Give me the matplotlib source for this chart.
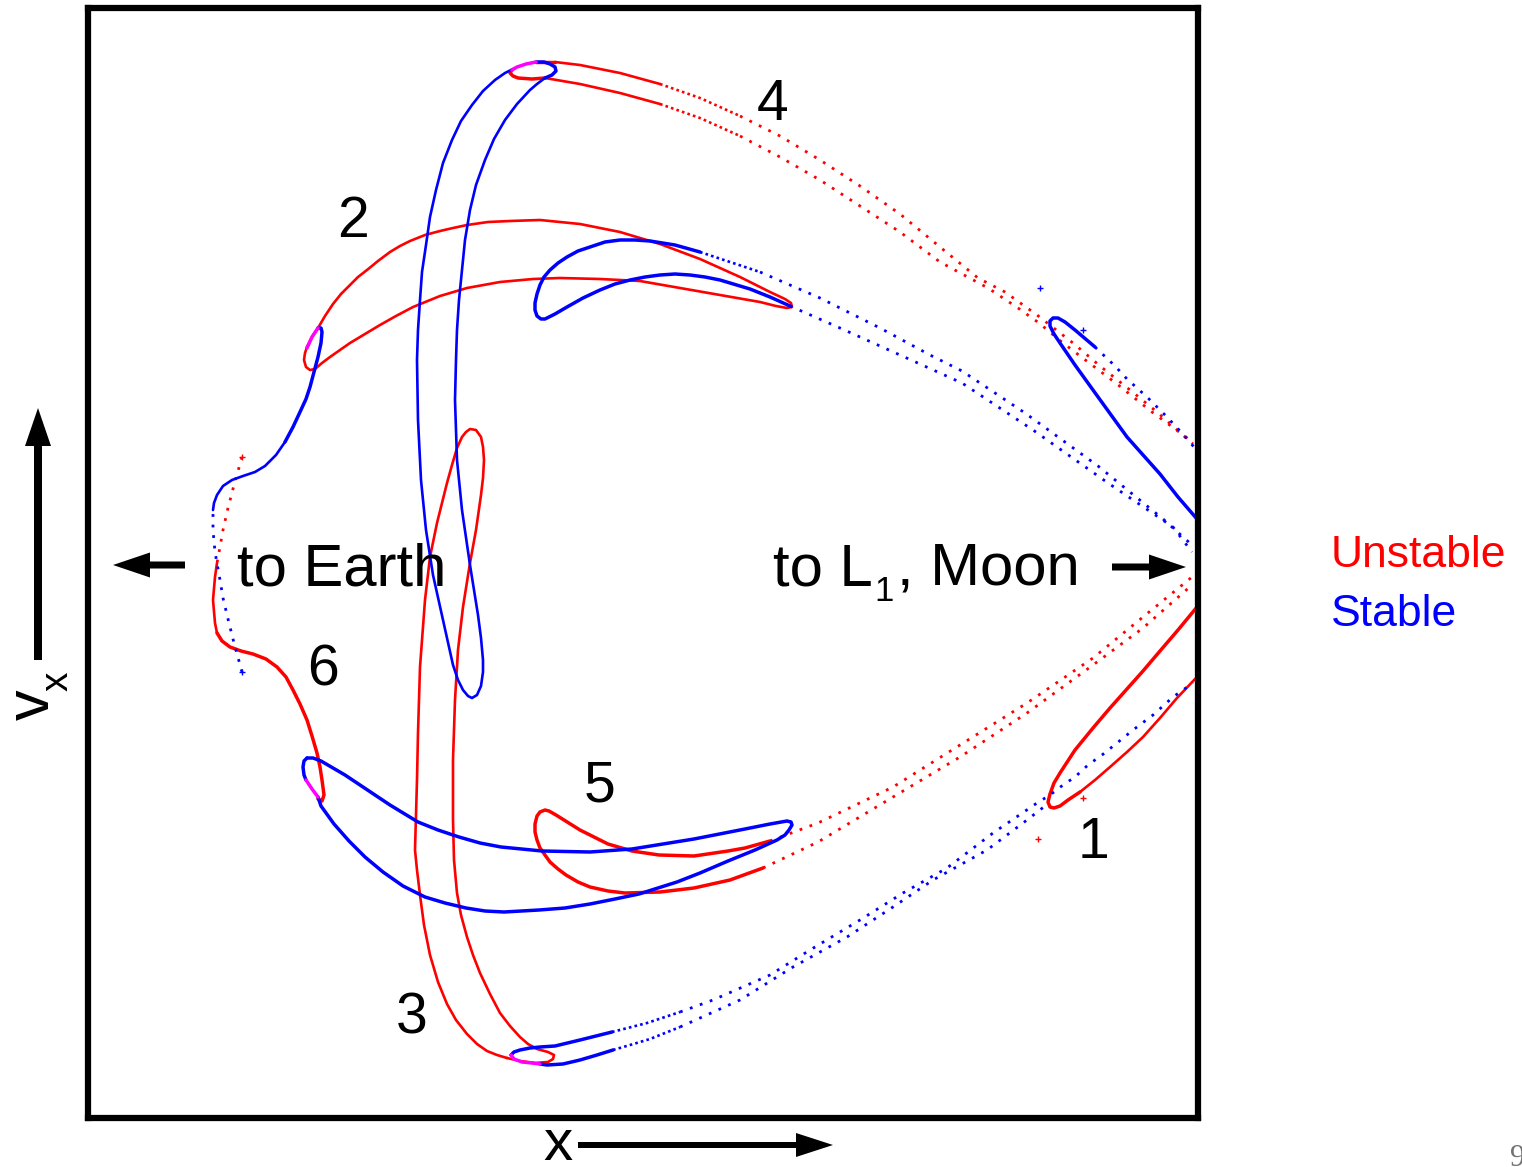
import matplotlib
matplotlib.use('Agg')
import matplotlib.pyplot as plt

plt.rcParams['font.family'] = ['Liberation Sans', 'DejaVu Sans']

RED = '#ff0000'
BLUE = '#0000ff'
MAG = '#ff00ff'

# ---- curve data (x, v_x in picture units, v_x grows downward) ----
# unstable manifold (red)
red_lobe1 = [(1197, 607), (1178, 630), (1160, 651), (1143, 671), (1110, 708), (1093, 728),
             (1075, 750), (1060, 773), (1054, 783), (1050, 794), (1048, 802), (1050, 807),
             (1054, 808), (1060, 806), (1068, 800), (1080, 792)]
red_lobe1_tail = [(1080, 792), (1095, 780), (1110, 767), (1127, 752), (1143, 737),
                  (1160, 718), (1177, 698), (1196, 678)]
red_5_up_dots = [(770, 841), (818, 823), (893, 787), (960, 745), (1027, 703), (1093, 658),
                 (1143, 617), (1192, 577)]
red_5_low_dots = [(763, 868), (818, 842), (893, 797), (960, 757), (1027, 713), (1093, 665),
                  (1143, 628), (1192, 585)]
red_lobe5 = [(770, 841), (745, 848), (728, 851), (694, 856), (659, 855), (632, 851),
             (608, 844), (580, 830), (556, 815), (549, 811), (545, 810), (540, 812),
             (537, 816), (535, 824), (535, 832), (537, 840), (540, 848), (545, 855),
             (550, 862), (558, 869), (566, 875), (578, 882), (590, 887), (608, 891),
             (625, 893), (660, 892), (694, 888), (730, 880), (763, 868)]
red_earth_dots = [(242, 457), (234, 485), (228, 508), (223, 530), (220, 547), (217, 563)]
red_earth_dense = [(217, 563), (215, 577), (213, 600), (215, 623), (217, 633)]
red_6 = [(217, 633), (222, 641), (230, 647), (241, 651), (253, 654), (266, 659), (277, 667),
         (286, 677), (293, 690), (300, 704), (307, 720), (312, 736), (317, 753), (320, 767),
         (322, 780), (324, 795), (322, 801), (318, 799)]
red_lobe2 = [(307, 347), (312, 337), (318, 328), (325, 316), (333, 304), (341, 294),
             (350, 285), (358, 277), (367, 270), (378, 261), (390, 252), (400, 246),
             (410, 241), (425, 235), (440, 231), (453, 228), (467, 225), (488, 222),
             (510, 221), (540, 220), (580, 224), (620, 232), (660, 244), (700, 259),
             (740, 277), (770, 292), (785, 299), (791, 303), (792, 307), (787, 308),
             (776, 306), (760, 302), (720, 295), (680, 288), (640, 281), (600, 279),
             (560, 278), (533, 279), (500, 282), (467, 288), (440, 296), (413, 307),
             (396, 316), (380, 325), (365, 334), (350, 343), (340, 350), (330, 357),
             (322, 363), (315, 369), (310, 370), (306, 367), (304, 360), (305, 353),
             (307, 347)]
red_4_up = [(555, 62), (580, 65), (620, 73), (660, 84)]
red_4_up_fine = [(660, 84), (700, 98), (740, 116)]
red_4_up_dots = [(740, 116), (780, 136), (820, 160), (860, 186), (900, 214),
                 (940, 247), (978, 278), (1005, 292), (1037, 315), (1073, 343),
                 (1100, 366), (1135, 394), (1157, 412), (1193, 444)]
red_4_low = [(545, 78), (580, 84), (620, 93), (660, 104)]
red_4_low_fine = [(660, 104), (700, 118), (740, 136)]
red_4_low_dots = [(740, 136), (780, 157), (820, 180), (860, 206), (900, 232),
                  (940, 262), (988, 288), (1018, 308), (1039, 323), (1063, 343),
                  (1088, 362), (1117, 384), (1152, 412), (1190, 440)]
red_top_loop = [(536, 62), (555, 62)]
red_top_loop_b = [(512, 70), (510, 73), (513, 76), (518, 78), (532, 79), (545, 78)]
red_arch = [(507, 1058), (497, 1055), (487, 1051), (477, 1044), (467, 1034), (456, 1020),
            (447, 1004), (438, 982), (430, 955), (424, 925), (420, 895), (417, 870),
            (415, 850), (416, 815), (417, 780), (418, 733), (420, 667), (425, 600),
            (430, 557), (437, 523), (447, 483), (452, 465), (457, 448), (462, 437),
            (466, 432), (470, 429), (476, 430), (481, 437), (483, 447), (484, 460),
            (483, 478), (481, 495), (476, 530), (470, 563), (463, 607), (458, 650),
            (455, 700), (453, 760), (453, 820), (454, 860), (457, 893), (461, 915),
            (467, 937), (473, 955), (480, 973), (490, 994), (500, 1013), (510, 1026),
            (520, 1037), (528, 1044), (537, 1049), (548, 1052), (554, 1055), (553, 1059),
            (548, 1062), (535, 1063), (520, 1061), (507, 1058)]
red_strays = [(1038, 839), (1083, 798), (242, 457)]

# stable manifold (blue)
blue_lobe1 = [(1197, 519), (1178, 497), (1160, 474), (1127, 437), (1093, 390), (1075, 365),
              (1060, 343), (1054, 334), (1050, 326), (1050, 321), (1053, 318), (1058, 318),
              (1065, 322), (1075, 330), (1095, 347)]
blue_lobe1_tail = [(1095, 347), (1115, 366), (1127, 379), (1147, 397), (1167, 417),
                   (1180, 431), (1194, 447)]
blue_c_up_fine = [(700, 252), (760, 272)]
blue_c_up_dots = [(760, 272), (820, 298), (880, 328), (930, 355), (962, 371),
                  (1025, 413), (1098, 466), (1163, 519), (1192, 545)]
blue_c_low_dots = [(790, 306), (840, 328), (900, 355), (962, 383), (1033, 430),
                   (1108, 483), (1173, 527), (1192, 552)]
blue_lobe_c = [(700, 252), (675, 245), (650, 241), (635, 240), (620, 240), (605, 242),
               (590, 247), (578, 251), (567, 257), (558, 263), (550, 270), (544, 277),
               (540, 285), (537, 294), (535, 303), (535, 310), (537, 316), (541, 319),
               (545, 319), (555, 314), (567, 307), (583, 298), (600, 290), (615, 284),
               (630, 280), (645, 277), (660, 275), (675, 274), (690, 275), (705, 277),
               (720, 280), (750, 289), (770, 297), (790, 306)]
blue_arch = [(515, 68), (505, 73), (495, 80), (483, 91), (472, 105), (461, 121), (452, 140),
             (443, 163), (436, 190), (430, 217), (426, 245), (422, 272), (420, 300),
             (418, 330), (417, 360), (418, 420), (421, 480), (426, 530), (433, 575),
             (443, 620), (453, 665), (458, 680), (463, 690), (468, 696), (472, 698),
             (477, 695), (481, 686), (483, 672), (483, 660), (481, 638), (478, 615),
             (470, 565), (462, 510), (457, 460), (455, 400), (456, 360), (457, 330),
             (459, 300), (462, 270), (465, 240), (470, 210), (476, 185), (485, 160),
             (494, 139), (505, 120), (517, 104), (530, 90), (537, 84), (545, 78)]
blue_top_loop = [(536, 62), (544, 62), (550, 64), (555, 67), (556, 71), (552, 75), (545, 78)]
blue_earth_dots = [(242, 672), (234, 643), (228, 619), (223, 598), (220, 580), (215, 552),
                   (213, 530), (213, 510)]
blue_earth_dense = [(213, 510), (214, 503), (217, 495), (223, 486), (232, 480), (243, 476),
                    (255, 472), (265, 466), (276, 455), (285, 442)]
blue_2 = [(285, 442), (293, 427), (300, 412), (306, 399), (310, 387), (314, 372), (318, 357),
          (321, 343), (322, 332), (321, 328), (318, 328)]
blue_5 = [(307, 758), (313, 758), (321, 761), (333, 768), (345, 775), (366, 789), (390, 805),
          (418, 822), (438, 830), (459, 837), (480, 843), (501, 847), (542, 851), (590, 852),
          (632, 849), (694, 839), (745, 829), (770, 824), (787, 821), (791, 822), (792, 825),
          (789, 830), (785, 835), (777, 840), (755, 850), (728, 861), (700, 873), (677, 882),
          (639, 894), (615, 899), (590, 904), (565, 908), (539, 910), (504, 912), (485, 911),
          (466, 908), (445, 903), (425, 897), (403, 886), (383, 872), (365, 857), (349, 841),
          (334, 824), (321, 806), (318, 797)]
blue_5_loop = [(307, 758), (304, 761), (303, 767), (304, 775), (306, 780)]
blue_bot_loop = [(511, 1055), (514, 1052), (520, 1050), (530, 1048), (540, 1047),
                 (555, 1046), (580, 1040), (612, 1032)]
blue_bot_up_fine = [(612, 1032), (647, 1023), (680, 1012)]
blue_bot_up_dots = [(680, 1012), (713, 1000), (770, 975), (810, 950), (860, 920),
                    (903, 893), (947, 868), (993, 833), (1037, 803), (1050, 795),
                    (1063, 785), (1075, 777), (1088, 765), (1102, 755), (1117, 743),
                    (1133, 730), (1153, 715), (1173, 697), (1193, 683)]
blue_bot_low = [(540, 1064), (547, 1065), (563, 1064), (580, 1060), (597, 1055), (613, 1050)]
blue_bot_low_fine = [(613, 1050), (630, 1045), (650, 1039), (680, 1027)]
blue_bot_low_dots = [(680, 1027), (740, 1000), (793, 967), (847, 937),
                     (893, 907), (933, 880), (987, 850), (1027, 820), (1045, 806)]
blue_strays = [(1040, 288), (1083, 330), (242, 672)]

# places where both manifolds lie on top of each other
overlap_2 = [(318, 328), (312, 337), (307, 348)]
overlap_6 = [(306, 780), (312, 789), (318, 797)]
overlap_top = [(512, 70), (517, 67), (526, 64), (536, 62)]
overlap_bot = [(511, 1055), (514, 1059), (522, 1062), (532, 1063), (540, 1064)]

styles = {
    'solid': dict(lw=2.5, ls='-'),
    'dense': dict(lw=1.9, ls='-'),
    'fine': dict(lw=1.9, ls=(0, (1, 1.2))),
    'dots': dict(lw=2.0, ls=(0, (1, 2.8))),
}

segments = [
    (red_lobe1, RED, 'solid'), (red_lobe1_tail, RED, 'dense'),
    (red_5_up_dots, RED, 'dots'), (red_5_low_dots, RED, 'dots'),
    (red_lobe5, RED, 'solid'),
    (red_earth_dots, RED, 'dots'), (red_earth_dense, RED, 'dense'), (red_6, RED, 'solid'),
    (red_lobe2, RED, 'dense'),
    (red_4_up, RED, 'dense'), (red_4_up_fine, RED, 'fine'), (red_4_up_dots, RED, 'dots'),
    (red_4_low, RED, 'dense'), (red_4_low_fine, RED, 'fine'), (red_4_low_dots, RED, 'dots'),
    (red_top_loop, RED, 'solid'), (red_top_loop_b, RED, 'solid'),
    (red_arch, RED, 'dense'),
    (blue_lobe1, BLUE, 'solid'), (blue_lobe1_tail, BLUE, 'dots'),
    (blue_c_up_fine, BLUE, 'fine'), (blue_c_up_dots, BLUE, 'dots'),
    (blue_c_low_dots, BLUE, 'dots'),
    (blue_lobe_c, BLUE, 'solid'),
    (blue_arch, BLUE, 'dense'), (blue_top_loop, BLUE, 'solid'),
    (blue_earth_dots, BLUE, 'dots'), (blue_earth_dense, BLUE, 'dense'), (blue_2, BLUE, 'solid'),
    (blue_5, BLUE, 'solid'), (blue_5_loop, BLUE, 'solid'),
    (blue_bot_loop, BLUE, 'solid'), (blue_bot_up_fine, BLUE, 'fine'),
    (blue_bot_up_dots, BLUE, 'dots'),
    (blue_bot_low, BLUE, 'solid'), (blue_bot_low_fine, BLUE, 'fine'),
    (blue_bot_low_dots, BLUE, 'dots'),
    (overlap_2, MAG, 'solid'), (overlap_6, MAG, 'solid'),
    (overlap_top, MAG, 'solid'), (overlap_bot, MAG, 'solid'),
]

fig = plt.figure(figsize=(15.22, 11.67), dpi=100)
ax = fig.add_axes([88 / 1522, 49 / 1167, 1110 / 1522, 1110 / 1167])
ax.set_xlim(88, 1198)
ax.set_ylim(1118, 8)
ax.set_xticks([])
ax.set_yticks([])
for sp in ax.spines.values():
    sp.set_linewidth(4.5)

for pts, col, kind in segments:
    xs = [p[0] for p in pts]
    ys = [p[1] for p in pts]
    ax.plot(xs, ys, color=col, solid_capstyle='round', solid_joinstyle='round',
            **styles[kind])

ax.plot([p[0] for p in red_strays], [p[1] for p in red_strays], '+', color=RED, ms=4, mew=1)
ax.plot([p[0] for p in blue_strays], [p[1] for p in blue_strays], '+', color=BLUE, ms=4, mew=1)

# labels of the lobes
big = 41
for txt, x, y in [('4', 773, 120), ('2', 353, 237), ('6', 323, 686), ('5', 600, 802),
                  ('3', 412, 1033), ('1', 1093, 858)]:
    ax.text(x, y, txt, fontsize=big, ha='center', va='baseline')

ax.text(237, 585, 'to Earth', fontsize=43, ha='left', va='baseline')
ax.text(773, 585, 'to L', fontsize=43, ha='left', va='baseline')
ax.text(874, 601, '1', fontsize=25, ha='left', va='baseline')
ax.text(897, 585, ', Moon', fontsize=43, ha='left', va='baseline')

arr = dict(width=7, head_width=25, head_length=37, length_includes_head=True,
           fc='k', ec='none', clip_on=False)
ax.arrow(185, 565, -72, 0, **arr)
ax.arrow(1112, 567, 74, 0, **arr)

# axis labels with arrows
ax.arrow(38, 660, 0, -252, width=8, head_width=26, head_length=38,
         length_includes_head=True, fc='k', ec='none', clip_on=False)
ax.text(49, 720, 'v', fontsize=44, rotation=90, rotation_mode='anchor',
        ha='left', va='baseline', clip_on=False)
ax.text(68, 691, 'x', fontsize=28, rotation=90, rotation_mode='anchor',
        ha='left', va='baseline', clip_on=False)

ax.text(543, 1160, 'x', fontsize=42, ha='left', va='baseline', clip_on=False)
ax.arrow(578, 1145, 255, 0, width=6, head_width=24, head_length=37,
         length_includes_head=True, fc='k', ec='none', clip_on=False)

ax.text(1331, 567, 'Unstable', fontsize=32, color=RED, ha='left', va='baseline', clip_on=False)
ax.text(1331, 626, 'Stable', fontsize=32, color=BLUE, ha='left', va='baseline', clip_on=False)

ax.text(1510, 1166, '9', fontsize=22, color='0.45', family='Liberation Serif',
        ha='left', va='baseline', clip_on=False)

fig.savefig('out.png', dpi=100)
